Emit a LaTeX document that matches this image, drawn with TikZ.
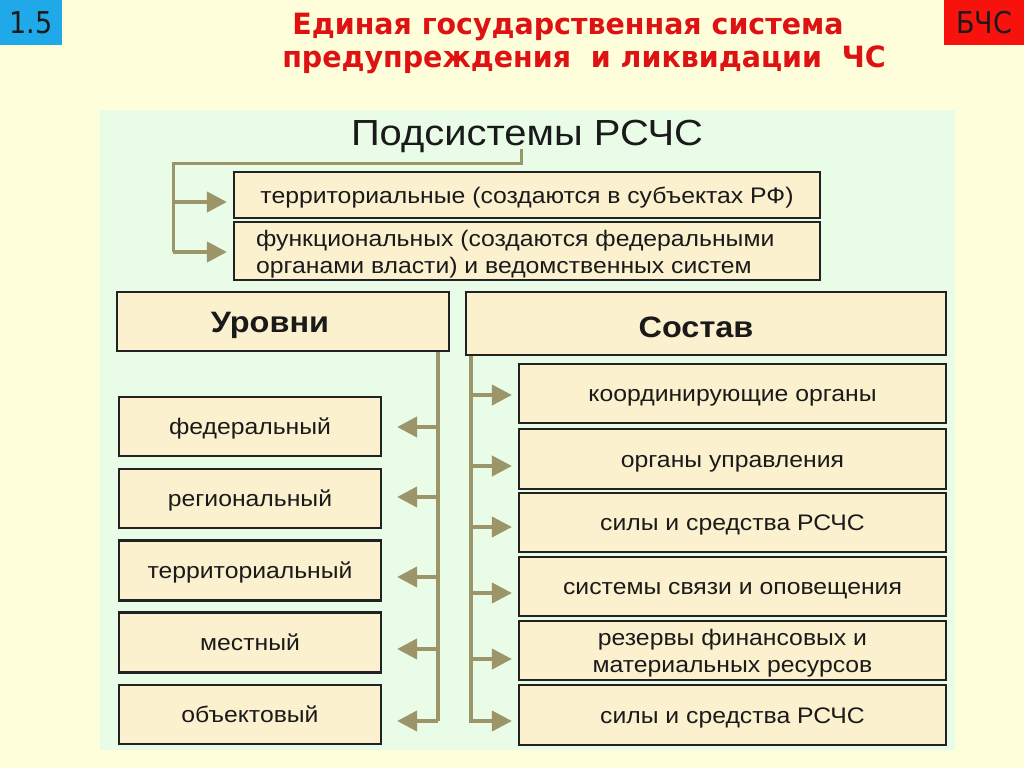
\documentclass[tikz,border=0pt]{standalone}
\usepackage{fontspec}
\setmainfont[FakeStretch=1.10]{Liberation Sans}
\newfontfamily\titlefont[FakeStretch=1.08]{DejaVu Sans Condensed}
\newfontfamily\tagfont{DejaVu Sans Condensed}
\usetikzlibrary{arrows.meta}
\definecolor{bgc}{HTML}{FFFEDA}
\definecolor{panelc}{HTML}{E9FCE7}
\definecolor{boxc}{HTML}{FCF1CE}
\definecolor{bordc}{HTML}{222222}
\definecolor{arrc}{HTML}{9B9569}
\definecolor{bluec}{HTML}{1FA9E8}
\definecolor{redc}{HTML}{F8120E}
\definecolor{titlec}{HTML}{DE1212}
\definecolor{txtc}{HTML}{1A1A1A}
\tikzset{
  boxshape/.style={draw=bordc, fill=boxc, line width=2.2pt, inner sep=0pt},
  box/.style={boxshape, text=txtc, font=\fontsize{22.5}{27}\selectfont, align=center,
    text height=17pt, text depth=1pt},
  btext/.style={text=txtc, inner sep=0pt, font=\fontsize{22.5}{27}\selectfont},
  htext/.style={text=txtc, inner sep=0pt, font=\fontsize{29.5}{34}\selectfont\bfseries},
  ttext/.style={text=titlec, inner sep=0pt, font=\titlefont\bfseries\fontsize{29.3}{34}\selectfont},
  tag/.style={minimum height=45pt, inner sep=0pt, anchor=north west,
    font=\tagfont\fontsize{30}{32}\selectfont, text=txtc},
  conn/.style={draw=arrc, line width=4pt},
  arr/.style={conn, -{Triangle[length=20pt,width=20pt]}},
}
\begin{document}
\begin{tikzpicture}[x=1pt,y=-1pt]
\useasboundingbox (0,0) rectangle (1024,768);
\fill[bgc] (0,0) rectangle (1024,768);
\fill[panelc] (100,110) rectangle (955,750);
% tags
\node[tag, fill=bluec, minimum width=62pt] (tag1) at (0,0) {1.5};
\node[tag, fill=redc, minimum width=80pt] (tag2) at (944,0) {БЧС};
% title
\node[ttext] (t1) at (568,27) {Единая государственная система};
\node[ttext] (t2) at (584,60) {предупреждения\ \ и ликвидации\ \ ЧС};
% subsystems
\node[text=txtc, font=\fontsize{36.3}{40}\selectfont, inner sep=0pt] (sub) at (527,136) {Подсистемы РСЧС};
\node[box, minimum width=586pt, minimum height=46pt] (b1) at (527,195) {территориальные (создаются в субъектах РФ)};
\node[boxshape, minimum width=586pt, minimum height=58pt] (b2) at (527,251) {};
\node[btext, align=left, anchor=west] (b2t) at ([xshift=23pt,yshift=-3pt]b2.west)
  {функциональных (создаются федеральными\\органами власти) и ведомственных систем};
\coordinate (s0) at (521,149);
\coordinate (s1) at (521,163);
\coordinate (s2) at (173,163);
\coordinate (a1) at (173,202);
\coordinate (a2) at (173,252);
\draw[conn, line width=3pt] (s0) -- (s1) -- (s2) -- (a2);
\draw[arr, shorten >=6pt] (a1) -- (a1 -| b1.west);
\draw[arr, shorten >=6pt] (a2) -- (a2 -| b2.west);
% headers
\node[boxshape, minimum width=332pt, minimum height=59pt] (lev) at (283,321.5) {};
\node[htext] (levt) at ([xshift=-13pt,yshift=-4pt]lev.center) {Уровни};
\node[boxshape, minimum width=480pt, minimum height=63pt] (comp) at (706,323.5) {};
\node[htext] (compt) at ([xshift=-10pt,yshift=-4pt]comp.center) {Состав};
% left column
\node[box, minimum width=262pt, minimum height=59pt] (l1) at (250,426.5) {федеральный};
\node[box, minimum width=262pt, minimum height=59pt] (l2) at (250,498.5) {региональный};
\node[box, minimum width=262pt, minimum height=60pt] (l3) at (250,570.5) {территориальный};
\node[box, minimum width=262pt, minimum height=60pt] (l4) at (250,642.5) {местный};
\node[box, minimum width=262pt, minimum height=59pt] (l5) at (250,714.5) {объектовый};
% right column
\node[box, minimum width=427pt, minimum height=59pt] (r1) at (732.5,393.5) {координирующие органы};
\node[box, minimum width=427pt, minimum height=60pt] (r2) at (732.5,459) {органы управления};
\node[box, minimum width=427pt, minimum height=59pt] (r3) at (732.5,522.5) {силы и средства РСЧС};
\node[box, minimum width=427pt, minimum height=59pt] (r4) at (732.5,586.5) {системы связи и оповещения};
\node[boxshape, minimum width=427pt, minimum height=59pt] (r5) at (732.5,650.5) {};
\node[btext, align=center] (r5t) at ([yshift=-3pt]r5.center) {резервы финансовых и\\материальных ресурсов};
\node[box, minimum width=427pt, minimum height=60pt] (r6) at (732.5,715) {силы и средства РСЧС};
% left tree
\coordinate (lt) at (438,351);
\coordinate (lb) at (438,721);
\foreach \y [count=\i] in {427,497,577,649,721}{
  \coordinate (la\i) at (438,\y);
}
\draw[conn] (lev.south -| lt) -- (lb);
\draw[arr, shorten >=15pt] (la1) -- (la1 -| l1.east);
\draw[arr, shorten >=15pt] (la2) -- (la2 -| l2.east);
\draw[arr, shorten >=15pt] (la3) -- (la3 -| l3.east);
\draw[arr, shorten >=15pt] (la4) -- (la4 -| l4.east);
\draw[arr, shorten >=15pt] (la5) -- (la5 -| l5.east);
% right tree
\coordinate (rt) at (471,355);
\coordinate (rb) at (471,723);
\foreach \y [count=\i] in {395,466,527,593,659,721}{
  \coordinate (ra\i) at (471,\y);
}
\draw[conn] (comp.south -| rt) -- (rb);
\draw[arr, shorten >=6pt] (ra1) -- (ra1 -| r1.west);
\draw[arr, shorten >=6pt] (ra2) -- (ra2 -| r2.west);
\draw[arr, shorten >=6pt] (ra3) -- (ra3 -| r3.west);
\draw[arr, shorten >=6pt] (ra4) -- (ra4 -| r4.west);
\draw[arr, shorten >=6pt] (ra5) -- (ra5 -| r5.west);
\draw[arr, shorten >=6pt] (ra6) -- (ra6 -| r6.west);
\end{tikzpicture}
\end{document}
